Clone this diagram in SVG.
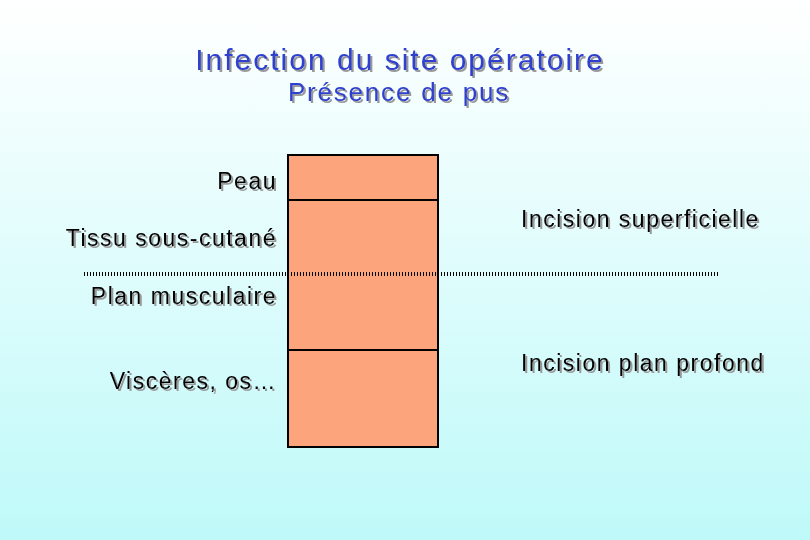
<svg xmlns="http://www.w3.org/2000/svg" width="810" height="540" viewBox="0 0 810 540">
<defs>
<linearGradient id="bg" x1="0" y1="0" x2="0" y2="1"><stop offset="0" stop-color="#ffffff"/><stop offset="1" stop-color="#bff9f9"/></linearGradient>
<filter id="ds" x="-5%" y="-20%" width="110%" height="140%"><feDropShadow dx="2" dy="2" stdDeviation="0.3" flood-color="#999"/></filter>
<style>
.t{font-family:"Liberation Sans",Arial,sans-serif;filter:url(#ds);}
.lbl{font-size:23px;letter-spacing:1.5px;fill:#000;}
.box{fill:#fca47c;stroke:#000;stroke-width:2;}
</style>
</defs>
<rect width="810" height="540" fill="url(#bg)"/>
<g id="title" class="t" text-anchor="middle">
<text x="400" y="70" font-size="30" letter-spacing="2" fill="#2d3fd0">Infection du site opératoire</text>
<text x="399" y="101" font-size="26" letter-spacing="1.8" fill="#2d3fd0">Présence de pus</text>
</g>
<g id="column">
<rect class="box" x="288" y="155" width="150" height="292"/>
<line x1="288" y1="200" x2="438" y2="200" stroke="#000" stroke-width="2"/>
<line x1="288" y1="350" x2="438" y2="350" stroke="#000" stroke-width="2"/>
</g>
<g id="connectors">
<line x1="84" y1="274" x2="720" y2="274" stroke="#000" stroke-width="4" stroke-dasharray="1,2"/>
</g>
<g id="labels" class="t">
<g text-anchor="end">
<text class="lbl" x="277" y="189">Peau</text>
<text class="lbl" x="277" y="246">Tissu sous-cutané</text>
<text class="lbl" x="277" y="304">Plan musculaire</text>
<text class="lbl" x="277" y="389">Viscères, os…</text>
</g>
<text class="lbl" x="521" y="227">Incision superficielle</text>
<text class="lbl" x="521" y="371">Incision plan profond</text>
</g>
</svg>
